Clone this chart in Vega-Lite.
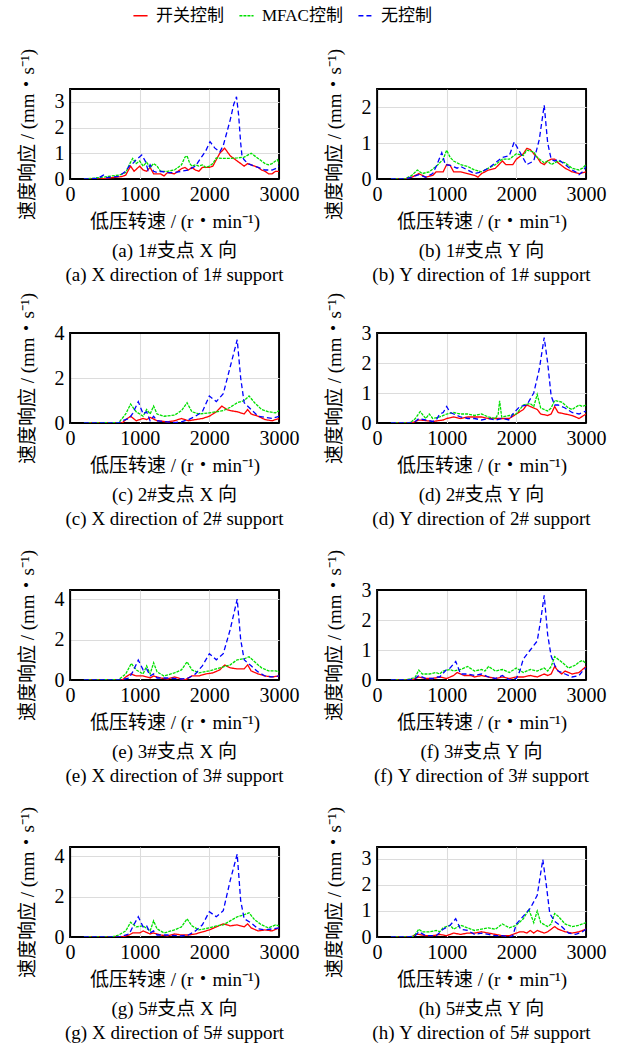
{
"$schema":"https://vega.github.io/schema/vega-lite/v6.json",
"autosize":{"type":"none"},
"padding":{"left":70,"top":89,"right":548,"bottom":955},
"config":{
 "view":{"stroke":"#000","strokeWidth":1.8},
 "axis":{"labelFont":"Liberation Serif","labelFontSize":20,"labelColor":"#000","titleFont":"'Liberation Serif','Noto Sans CJK SC'","titleFontSize":19,"titleFontWeight":"normal","titleColor":"#000","grid":true,"gridColor":"#dcdcdc","gridWidth":1.1,"domain":true,"domainColor":"#000","domainWidth":1.2,"ticks":false,"tickSize":0,"labelFlush":false,"format":"d"},
 "axisX":{"labelPadding":5,"titlePadding":8},
 "axisY":{"labelPadding":6,"titlePadding":17},
 "title":{"font":"'Liberation Serif','Noto Sans CJK SC'","fontSize":19,"fontWeight":"normal","color":"#000","orient":"bottom","anchor":"middle","lineHeight":24,"offset":11},
 "legend":{"labelFont":"'Liberation Serif','Noto Sans CJK SC'","labelFontSize":17,"labelColor":"#000"}
},
"data":{"values":[
{"p":"a","s":"R","x":200,"y":0},{"p":"a","s":"R","x":400,"y":0},{"p":"a","s":"R","x":500,"y":0.02},{"p":"a","s":"R","x":600,"y":0.05},{"p":"a","s":"R","x":700,"y":0.08},{"p":"a","s":"R","x":750,"y":0.1},{"p":"a","s":"R","x":800,"y":0.15},{"p":"a","s":"R","x":870,"y":0.5},{"p":"a","s":"R","x":920,"y":0.3},{"p":"a","s":"R","x":1000,"y":0.5},{"p":"a","s":"R","x":1050,"y":0.35},{"p":"a","s":"R","x":1100,"y":0.3},{"p":"a","s":"R","x":1150,"y":0.45},{"p":"a","s":"R","x":1200,"y":0.2},{"p":"a","s":"R","x":1300,"y":0.2},{"p":"a","s":"R","x":1350,"y":0.12},{"p":"a","s":"R","x":1400,"y":0.25},{"p":"a","s":"R","x":1500,"y":0.2},{"p":"a","s":"R","x":1600,"y":0.4},{"p":"a","s":"R","x":1650,"y":0.45},{"p":"a","s":"R","x":1700,"y":0.35},{"p":"a","s":"R","x":1750,"y":0.45},{"p":"a","s":"R","x":1800,"y":0.35},{"p":"a","s":"R","x":1850,"y":0.3},{"p":"a","s":"R","x":1900,"y":0.45},{"p":"a","s":"R","x":2000,"y":0.45},{"p":"a","s":"R","x":2050,"y":0.5},{"p":"a","s":"R","x":2100,"y":0.75},{"p":"a","s":"R","x":2150,"y":1.0},{"p":"a","s":"R","x":2220,"y":1.2},{"p":"a","s":"R","x":2300,"y":0.9},{"p":"a","s":"R","x":2400,"y":0.7},{"p":"a","s":"R","x":2450,"y":0.6},{"p":"a","s":"R","x":2500,"y":0.5},{"p":"a","s":"R","x":2550,"y":0.6},{"p":"a","s":"R","x":2600,"y":0.55},{"p":"a","s":"R","x":2700,"y":0.45},{"p":"a","s":"R","x":2750,"y":0.35},{"p":"a","s":"R","x":2800,"y":0.3},{"p":"a","s":"R","x":2850,"y":0.2},{"p":"a","s":"R","x":2900,"y":0.2},{"p":"a","s":"R","x":2950,"y":0.3},{"p":"a","s":"R","x":3000,"y":0.3},
{"p":"a","s":"G","x":200,"y":0},{"p":"a","s":"G","x":300,"y":0.02},{"p":"a","s":"G","x":400,"y":0.05},{"p":"a","s":"G","x":500,"y":0.08},{"p":"a","s":"G","x":600,"y":0.12},{"p":"a","s":"G","x":700,"y":0.15},{"p":"a","s":"G","x":800,"y":0.25},{"p":"a","s":"G","x":850,"y":0.55},{"p":"a","s":"G","x":900,"y":0.8},{"p":"a","s":"G","x":950,"y":0.6},{"p":"a","s":"G","x":1000,"y":0.7},{"p":"a","s":"G","x":1050,"y":0.5},{"p":"a","s":"G","x":1100,"y":0.65},{"p":"a","s":"G","x":1150,"y":0.45},{"p":"a","s":"G","x":1200,"y":0.6},{"p":"a","s":"G","x":1250,"y":0.5},{"p":"a","s":"G","x":1300,"y":0.3},{"p":"a","s":"G","x":1400,"y":0.3},{"p":"a","s":"G","x":1500,"y":0.35},{"p":"a","s":"G","x":1550,"y":0.45},{"p":"a","s":"G","x":1600,"y":0.55},{"p":"a","s":"G","x":1650,"y":0.85},{"p":"a","s":"G","x":1680,"y":0.9},{"p":"a","s":"G","x":1720,"y":0.6},{"p":"a","s":"G","x":1750,"y":0.5},{"p":"a","s":"G","x":1800,"y":0.55},{"p":"a","s":"G","x":1850,"y":0.5},{"p":"a","s":"G","x":1900,"y":0.55},{"p":"a","s":"G","x":1950,"y":0.45},{"p":"a","s":"G","x":2000,"y":0.5},{"p":"a","s":"G","x":2050,"y":0.6},{"p":"a","s":"G","x":2100,"y":0.82},{"p":"a","s":"G","x":2200,"y":0.8},{"p":"a","s":"G","x":2300,"y":0.8},{"p":"a","s":"G","x":2400,"y":0.82},{"p":"a","s":"G","x":2500,"y":0.85},{"p":"a","s":"G","x":2600,"y":1.0},{"p":"a","s":"G","x":2650,"y":0.9},{"p":"a","s":"G","x":2700,"y":0.8},{"p":"a","s":"G","x":2750,"y":0.7},{"p":"a","s":"G","x":2800,"y":0.6},{"p":"a","s":"G","x":2850,"y":0.55},{"p":"a","s":"G","x":2900,"y":0.6},{"p":"a","s":"G","x":2950,"y":0.7},{"p":"a","s":"G","x":2980,"y":0.75},{"p":"a","s":"G","x":3000,"y":0.6},
{"p":"a","s":"B","x":200,"y":0},{"p":"a","s":"B","x":400,"y":0.02},{"p":"a","s":"B","x":480,"y":0.15},{"p":"a","s":"B","x":520,"y":0.05},{"p":"a","s":"B","x":600,"y":0.08},{"p":"a","s":"B","x":700,"y":0.1},{"p":"a","s":"B","x":800,"y":0.3},{"p":"a","s":"B","x":850,"y":0.5},{"p":"a","s":"B","x":900,"y":0.6},{"p":"a","s":"B","x":950,"y":0.75},{"p":"a","s":"B","x":1030,"y":0.93},{"p":"a","s":"B","x":1080,"y":0.7},{"p":"a","s":"B","x":1120,"y":0.35},{"p":"a","s":"B","x":1150,"y":0.55},{"p":"a","s":"B","x":1200,"y":0.3},{"p":"a","s":"B","x":1250,"y":0.25},{"p":"a","s":"B","x":1300,"y":0.3},{"p":"a","s":"B","x":1400,"y":0.25},{"p":"a","s":"B","x":1500,"y":0.25},{"p":"a","s":"B","x":1600,"y":0.3},{"p":"a","s":"B","x":1700,"y":0.35},{"p":"a","s":"B","x":1800,"y":0.5},{"p":"a","s":"B","x":1900,"y":0.9},{"p":"a","s":"B","x":1950,"y":1.1},{"p":"a","s":"B","x":2010,"y":1.45},{"p":"a","s":"B","x":2080,"y":1.2},{"p":"a","s":"B","x":2150,"y":1.05},{"p":"a","s":"B","x":2200,"y":1.3},{"p":"a","s":"B","x":2250,"y":1.8},{"p":"a","s":"B","x":2300,"y":2.3},{"p":"a","s":"B","x":2350,"y":2.9},{"p":"a","s":"B","x":2390,"y":3.2},{"p":"a","s":"B","x":2420,"y":2.5},{"p":"a","s":"B","x":2450,"y":1.4},{"p":"a","s":"B","x":2470,"y":0.86},{"p":"a","s":"B","x":2500,"y":0.75},{"p":"a","s":"B","x":2550,"y":0.6},{"p":"a","s":"B","x":2600,"y":0.55},{"p":"a","s":"B","x":2700,"y":0.45},{"p":"a","s":"B","x":2800,"y":0.35},{"p":"a","s":"B","x":2900,"y":0.35},{"p":"a","s":"B","x":2950,"y":0.4},{"p":"a","s":"B","x":3000,"y":0.5},

{"p":"b","s":"R","x":200,"y":0},{"p":"b","s":"R","x":400,"y":0},{"p":"b","s":"R","x":500,"y":0.05},{"p":"b","s":"R","x":550,"y":0.1},{"p":"b","s":"R","x":600,"y":0.15},{"p":"b","s":"R","x":650,"y":0.1},{"p":"b","s":"R","x":700,"y":0.05},{"p":"b","s":"R","x":800,"y":0.1},{"p":"b","s":"R","x":850,"y":0.2},{"p":"b","s":"R","x":950,"y":0.2},{"p":"b","s":"R","x":1000,"y":0.4},{"p":"b","s":"R","x":1050,"y":0.38},{"p":"b","s":"R","x":1100,"y":0.2},{"p":"b","s":"R","x":1200,"y":0.2},{"p":"b","s":"R","x":1300,"y":0.15},{"p":"b","s":"R","x":1400,"y":0.1},{"p":"b","s":"R","x":1450,"y":0.05},{"p":"b","s":"R","x":1500,"y":0.15},{"p":"b","s":"R","x":1600,"y":0.25},{"p":"b","s":"R","x":1700,"y":0.3},{"p":"b","s":"R","x":1800,"y":0.5},{"p":"b","s":"R","x":1850,"y":0.4},{"p":"b","s":"R","x":1950,"y":0.4},{"p":"b","s":"R","x":2000,"y":0.55},{"p":"b","s":"R","x":2100,"y":0.7},{"p":"b","s":"R","x":2150,"y":0.85},{"p":"b","s":"R","x":2200,"y":0.82},{"p":"b","s":"R","x":2250,"y":0.7},{"p":"b","s":"R","x":2300,"y":0.6},{"p":"b","s":"R","x":2350,"y":0.45},{"p":"b","s":"R","x":2400,"y":0.4},{"p":"b","s":"R","x":2450,"y":0.5},{"p":"b","s":"R","x":2500,"y":0.55},{"p":"b","s":"R","x":2550,"y":0.55},{"p":"b","s":"R","x":2600,"y":0.45},{"p":"b","s":"R","x":2700,"y":0.3},{"p":"b","s":"R","x":2800,"y":0.2},{"p":"b","s":"R","x":2900,"y":0.15},{"p":"b","s":"R","x":3000,"y":0.2},
{"p":"b","s":"G","x":200,"y":0},{"p":"b","s":"G","x":400,"y":0},{"p":"b","s":"G","x":450,"y":0.05},{"p":"b","s":"G","x":500,"y":0.1},{"p":"b","s":"G","x":580,"y":0.25},{"p":"b","s":"G","x":650,"y":0.15},{"p":"b","s":"G","x":750,"y":0.2},{"p":"b","s":"G","x":850,"y":0.35},{"p":"b","s":"G","x":950,"y":0.55},{"p":"b","s":"G","x":1000,"y":0.8},{"p":"b","s":"G","x":1050,"y":0.6},{"p":"b","s":"G","x":1100,"y":0.5},{"p":"b","s":"G","x":1200,"y":0.4},{"p":"b","s":"G","x":1300,"y":0.35},{"p":"b","s":"G","x":1400,"y":0.25},{"p":"b","s":"G","x":1500,"y":0.2},{"p":"b","s":"G","x":1600,"y":0.3},{"p":"b","s":"G","x":1700,"y":0.4},{"p":"b","s":"G","x":1800,"y":0.55},{"p":"b","s":"G","x":1900,"y":0.55},{"p":"b","s":"G","x":2000,"y":0.7},{"p":"b","s":"G","x":2100,"y":0.65},{"p":"b","s":"G","x":2150,"y":0.8},{"p":"b","s":"G","x":2250,"y":0.75},{"p":"b","s":"G","x":2300,"y":0.6},{"p":"b","s":"G","x":2400,"y":0.45},{"p":"b","s":"G","x":2450,"y":0.5},{"p":"b","s":"G","x":2500,"y":0.4},{"p":"b","s":"G","x":2600,"y":0.5},{"p":"b","s":"G","x":2700,"y":0.45},{"p":"b","s":"G","x":2800,"y":0.3},{"p":"b","s":"G","x":2900,"y":0.25},{"p":"b","s":"G","x":2950,"y":0.3},{"p":"b","s":"G","x":3000,"y":0.4},
{"p":"b","s":"B","x":200,"y":0},{"p":"b","s":"B","x":400,"y":0},{"p":"b","s":"B","x":500,"y":0.05},{"p":"b","s":"B","x":600,"y":0.12},{"p":"b","s":"B","x":700,"y":0.05},{"p":"b","s":"B","x":800,"y":0.15},{"p":"b","s":"B","x":850,"y":0.35},{"p":"b","s":"B","x":930,"y":0.73},{"p":"b","s":"B","x":980,"y":0.4},{"p":"b","s":"B","x":1050,"y":0.38},{"p":"b","s":"B","x":1150,"y":0.3},{"p":"b","s":"B","x":1200,"y":0.35},{"p":"b","s":"B","x":1300,"y":0.25},{"p":"b","s":"B","x":1400,"y":0.15},{"p":"b","s":"B","x":1500,"y":0.2},{"p":"b","s":"B","x":1600,"y":0.3},{"p":"b","s":"B","x":1700,"y":0.45},{"p":"b","s":"B","x":1800,"y":0.6},{"p":"b","s":"B","x":1900,"y":0.65},{"p":"b","s":"B","x":1970,"y":1.03},{"p":"b","s":"B","x":2050,"y":0.75},{"p":"b","s":"B","x":2150,"y":0.4},{"p":"b","s":"B","x":2250,"y":0.5},{"p":"b","s":"B","x":2330,"y":1.1},{"p":"b","s":"B","x":2400,"y":2.05},{"p":"b","s":"B","x":2450,"y":1.0},{"p":"b","s":"B","x":2500,"y":0.55},{"p":"b","s":"B","x":2550,"y":0.5},{"p":"b","s":"B","x":2600,"y":0.55},{"p":"b","s":"B","x":2700,"y":0.4},{"p":"b","s":"B","x":2800,"y":0.25},{"p":"b","s":"B","x":2850,"y":0.2},{"p":"b","s":"B","x":2900,"y":0.12},{"p":"b","s":"B","x":2950,"y":0.2},{"p":"b","s":"B","x":3000,"y":0.35},

{"p":"c","s":"R","x":200,"y":0},{"p":"c","s":"R","x":750,"y":0},{"p":"c","s":"R","x":800,"y":0.15},{"p":"c","s":"R","x":870,"y":0.3},{"p":"c","s":"R","x":950,"y":0.1},{"p":"c","s":"R","x":1050,"y":0.2},{"p":"c","s":"R","x":1100,"y":0.15},{"p":"c","s":"R","x":1150,"y":0.25},{"p":"c","s":"R","x":1250,"y":0.1},{"p":"c","s":"R","x":1400,"y":0.05},{"p":"c","s":"R","x":1500,"y":0.1},{"p":"c","s":"R","x":1600,"y":0.2},{"p":"c","s":"R","x":1700,"y":0.1},{"p":"c","s":"R","x":1800,"y":0.15},{"p":"c","s":"R","x":1900,"y":0.2},{"p":"c","s":"R","x":2000,"y":0.3},{"p":"c","s":"R","x":2100,"y":0.5},{"p":"c","s":"R","x":2180,"y":0.75},{"p":"c","s":"R","x":2250,"y":0.6},{"p":"c","s":"R","x":2300,"y":0.55},{"p":"c","s":"R","x":2400,"y":0.5},{"p":"c","s":"R","x":2500,"y":0.4},{"p":"c","s":"R","x":2550,"y":0.6},{"p":"c","s":"R","x":2600,"y":0.4},{"p":"c","s":"R","x":2700,"y":0.3},{"p":"c","s":"R","x":2800,"y":0.15},{"p":"c","s":"R","x":2900,"y":0.1},{"p":"c","s":"R","x":3000,"y":0.2},
{"p":"c","s":"G","x":200,"y":0},{"p":"c","s":"G","x":700,"y":0.02},{"p":"c","s":"G","x":800,"y":0.4},{"p":"c","s":"G","x":870,"y":0.84},{"p":"c","s":"G","x":950,"y":0.5},{"p":"c","s":"G","x":1050,"y":0.3},{"p":"c","s":"G","x":1100,"y":0.6},{"p":"c","s":"G","x":1150,"y":0.4},{"p":"c","s":"G","x":1200,"y":0.75},{"p":"c","s":"G","x":1250,"y":0.4},{"p":"c","s":"G","x":1350,"y":0.3},{"p":"c","s":"G","x":1500,"y":0.35},{"p":"c","s":"G","x":1600,"y":0.55},{"p":"c","s":"G","x":1680,"y":0.9},{"p":"c","s":"G","x":1750,"y":0.5},{"p":"c","s":"G","x":1850,"y":0.4},{"p":"c","s":"G","x":2000,"y":0.45},{"p":"c","s":"G","x":2100,"y":0.5},{"p":"c","s":"G","x":2200,"y":0.55},{"p":"c","s":"G","x":2300,"y":0.7},{"p":"c","s":"G","x":2400,"y":0.9},{"p":"c","s":"G","x":2500,"y":1.0},{"p":"c","s":"G","x":2570,"y":1.2},{"p":"c","s":"G","x":2650,"y":0.9},{"p":"c","s":"G","x":2750,"y":0.6},{"p":"c","s":"G","x":2850,"y":0.5},{"p":"c","s":"G","x":2950,"y":0.45},{"p":"c","s":"G","x":3000,"y":0.55},
{"p":"c","s":"B","x":200,"y":0},{"p":"c","s":"B","x":700,"y":0},{"p":"c","s":"B","x":750,"y":0.1},{"p":"c","s":"B","x":850,"y":0.2},{"p":"c","s":"B","x":900,"y":0.43},{"p":"c","s":"B","x":980,"y":0.95},{"p":"c","s":"B","x":1050,"y":0.4},{"p":"c","s":"B","x":1100,"y":0.5},{"p":"c","s":"B","x":1150,"y":0.1},{"p":"c","s":"B","x":1200,"y":0.3},{"p":"c","s":"B","x":1250,"y":0.1},{"p":"c","s":"B","x":1400,"y":0.05},{"p":"c","s":"B","x":1500,"y":0.02},{"p":"c","s":"B","x":1600,"y":0.05},{"p":"c","s":"B","x":1700,"y":0.15},{"p":"c","s":"B","x":1800,"y":0.3},{"p":"c","s":"B","x":1900,"y":0.5},{"p":"c","s":"B","x":2000,"y":1.2},{"p":"c","s":"B","x":2100,"y":0.95},{"p":"c","s":"B","x":2200,"y":1.3},{"p":"c","s":"B","x":2300,"y":2.5},{"p":"c","s":"B","x":2400,"y":3.7},{"p":"c","s":"B","x":2450,"y":2.0},{"p":"c","s":"B","x":2500,"y":0.9},{"p":"c","s":"B","x":2600,"y":0.6},{"p":"c","s":"B","x":2700,"y":0.3},{"p":"c","s":"B","x":2800,"y":0.25},{"p":"c","s":"B","x":2900,"y":0.2},{"p":"c","s":"B","x":3000,"y":0.3},

{"p":"d","s":"R","x":200,"y":0},{"p":"d","s":"R","x":500,"y":0},{"p":"d","s":"R","x":550,"y":0.05},{"p":"d","s":"R","x":600,"y":0.1},{"p":"d","s":"R","x":700,"y":0.08},{"p":"d","s":"R","x":800,"y":0.05},{"p":"d","s":"R","x":950,"y":0.1},{"p":"d","s":"R","x":1000,"y":0.15},{"p":"d","s":"R","x":1100,"y":0.2},{"p":"d","s":"R","x":1200,"y":0.15},{"p":"d","s":"R","x":1300,"y":0.2},{"p":"d","s":"R","x":1400,"y":0.2},{"p":"d","s":"R","x":1500,"y":0.2},{"p":"d","s":"R","x":1600,"y":0.15},{"p":"d","s":"R","x":1700,"y":0.15},{"p":"d","s":"R","x":1800,"y":0.15},{"p":"d","s":"R","x":1900,"y":0.15},{"p":"d","s":"R","x":2000,"y":0.3},{"p":"d","s":"R","x":2100,"y":0.45},{"p":"d","s":"R","x":2150,"y":0.6},{"p":"d","s":"R","x":2200,"y":0.55},{"p":"d","s":"R","x":2300,"y":0.45},{"p":"d","s":"R","x":2350,"y":0.3},{"p":"d","s":"R","x":2450,"y":0.25},{"p":"d","s":"R","x":2500,"y":0.3},{"p":"d","s":"R","x":2550,"y":0.55},{"p":"d","s":"R","x":2600,"y":0.35},{"p":"d","s":"R","x":2700,"y":0.3},{"p":"d","s":"R","x":2800,"y":0.25},{"p":"d","s":"R","x":2900,"y":0.15},{"p":"d","s":"R","x":3000,"y":0.3},
{"p":"d","s":"G","x":200,"y":0},{"p":"d","s":"G","x":450,"y":0},{"p":"d","s":"G","x":500,"y":0.05},{"p":"d","s":"G","x":550,"y":0.15},{"p":"d","s":"G","x":620,"y":0.38},{"p":"d","s":"G","x":700,"y":0.15},{"p":"d","s":"G","x":750,"y":0.3},{"p":"d","s":"G","x":800,"y":0.15},{"p":"d","s":"G","x":900,"y":0.2},{"p":"d","s":"G","x":1000,"y":0.3},{"p":"d","s":"G","x":1100,"y":0.35},{"p":"d","s":"G","x":1200,"y":0.3},{"p":"d","s":"G","x":1300,"y":0.3},{"p":"d","s":"G","x":1400,"y":0.25},{"p":"d","s":"G","x":1500,"y":0.3},{"p":"d","s":"G","x":1600,"y":0.2},{"p":"d","s":"G","x":1700,"y":0.15},{"p":"d","s":"G","x":1740,"y":0.3},{"p":"d","s":"G","x":1760,"y":0.74},{"p":"d","s":"G","x":1790,"y":0.2},{"p":"d","s":"G","x":1900,"y":0.25},{"p":"d","s":"G","x":2000,"y":0.3},{"p":"d","s":"G","x":2100,"y":0.6},{"p":"d","s":"G","x":2200,"y":0.65},{"p":"d","s":"G","x":2250,"y":0.55},{"p":"d","s":"G","x":2300,"y":0.95},{"p":"d","s":"G","x":2350,"y":0.5},{"p":"d","s":"G","x":2450,"y":0.4},{"p":"d","s":"G","x":2500,"y":0.5},{"p":"d","s":"G","x":2550,"y":0.75},{"p":"d","s":"G","x":2650,"y":0.7},{"p":"d","s":"G","x":2750,"y":0.5},{"p":"d","s":"G","x":2800,"y":0.45},{"p":"d","s":"G","x":2900,"y":0.6},{"p":"d","s":"G","x":2950,"y":0.55},{"p":"d","s":"G","x":3000,"y":0.6},
{"p":"d","s":"B","x":200,"y":0},{"p":"d","s":"B","x":500,"y":0},{"p":"d","s":"B","x":550,"y":0.05},{"p":"d","s":"B","x":600,"y":0.15},{"p":"d","s":"B","x":700,"y":0.1},{"p":"d","s":"B","x":800,"y":0.05},{"p":"d","s":"B","x":850,"y":0.1},{"p":"d","s":"B","x":900,"y":0.3},{"p":"d","s":"B","x":950,"y":0.35},{"p":"d","s":"B","x":1000,"y":0.55},{"p":"d","s":"B","x":1050,"y":0.35},{"p":"d","s":"B","x":1100,"y":0.3},{"p":"d","s":"B","x":1200,"y":0.2},{"p":"d","s":"B","x":1300,"y":0.15},{"p":"d","s":"B","x":1400,"y":0.15},{"p":"d","s":"B","x":1500,"y":0.1},{"p":"d","s":"B","x":1600,"y":0.15},{"p":"d","s":"B","x":1700,"y":0.1},{"p":"d","s":"B","x":1800,"y":0.15},{"p":"d","s":"B","x":1900,"y":0.1},{"p":"d","s":"B","x":1950,"y":0.3},{"p":"d","s":"B","x":2050,"y":0.55},{"p":"d","s":"B","x":2150,"y":0.6},{"p":"d","s":"B","x":2250,"y":1.0},{"p":"d","s":"B","x":2330,"y":1.8},{"p":"d","s":"B","x":2400,"y":2.85},{"p":"d","s":"B","x":2450,"y":2.0},{"p":"d","s":"B","x":2500,"y":0.9},{"p":"d","s":"B","x":2550,"y":0.6},{"p":"d","s":"B","x":2600,"y":0.6},{"p":"d","s":"B","x":2700,"y":0.5},{"p":"d","s":"B","x":2800,"y":0.35},{"p":"d","s":"B","x":2900,"y":0.3},{"p":"d","s":"B","x":3000,"y":0.4},

{"p":"e","s":"R","x":200,"y":0},{"p":"e","s":"R","x":750,"y":0},{"p":"e","s":"R","x":800,"y":0.15},{"p":"e","s":"R","x":870,"y":0.3},{"p":"e","s":"R","x":950,"y":0.2},{"p":"e","s":"R","x":1050,"y":0.2},{"p":"e","s":"R","x":1150,"y":0.1},{"p":"e","s":"R","x":1200,"y":0.2},{"p":"e","s":"R","x":1300,"y":0.1},{"p":"e","s":"R","x":1400,"y":0.05},{"p":"e","s":"R","x":1500,"y":0.15},{"p":"e","s":"R","x":1600,"y":0.05},{"p":"e","s":"R","x":1650,"y":0},{"p":"e","s":"R","x":1750,"y":0.2},{"p":"e","s":"R","x":1850,"y":0.2},{"p":"e","s":"R","x":1950,"y":0.3},{"p":"e","s":"R","x":2050,"y":0.35},{"p":"e","s":"R","x":2150,"y":0.5},{"p":"e","s":"R","x":2220,"y":0.74},{"p":"e","s":"R","x":2300,"y":0.6},{"p":"e","s":"R","x":2400,"y":0.55},{"p":"e","s":"R","x":2500,"y":0.55},{"p":"e","s":"R","x":2550,"y":0.75},{"p":"e","s":"R","x":2600,"y":0.45},{"p":"e","s":"R","x":2700,"y":0.3},{"p":"e","s":"R","x":2800,"y":0.2},{"p":"e","s":"R","x":2900,"y":0.15},{"p":"e","s":"R","x":3000,"y":0.2},
{"p":"e","s":"G","x":200,"y":0},{"p":"e","s":"G","x":700,"y":0.02},{"p":"e","s":"G","x":800,"y":0.3},{"p":"e","s":"G","x":880,"y":0.82},{"p":"e","s":"G","x":950,"y":0.5},{"p":"e","s":"G","x":1050,"y":0.3},{"p":"e","s":"G","x":1100,"y":0.7},{"p":"e","s":"G","x":1150,"y":0.3},{"p":"e","s":"G","x":1200,"y":0.85},{"p":"e","s":"G","x":1250,"y":0.4},{"p":"e","s":"G","x":1350,"y":0.2},{"p":"e","s":"G","x":1500,"y":0.35},{"p":"e","s":"G","x":1600,"y":0.5},{"p":"e","s":"G","x":1680,"y":0.9},{"p":"e","s":"G","x":1750,"y":0.5},{"p":"e","s":"G","x":1850,"y":0.35},{"p":"e","s":"G","x":2000,"y":0.45},{"p":"e","s":"G","x":2100,"y":0.55},{"p":"e","s":"G","x":2200,"y":0.65},{"p":"e","s":"G","x":2300,"y":0.75},{"p":"e","s":"G","x":2400,"y":1.0},{"p":"e","s":"G","x":2500,"y":1.05},{"p":"e","s":"G","x":2570,"y":1.15},{"p":"e","s":"G","x":2650,"y":0.9},{"p":"e","s":"G","x":2750,"y":0.6},{"p":"e","s":"G","x":2850,"y":0.45},{"p":"e","s":"G","x":2950,"y":0.45},{"p":"e","s":"G","x":3000,"y":0.4},
{"p":"e","s":"B","x":200,"y":0},{"p":"e","s":"B","x":700,"y":0},{"p":"e","s":"B","x":850,"y":0.1},{"p":"e","s":"B","x":900,"y":0.4},{"p":"e","s":"B","x":980,"y":0.99},{"p":"e","s":"B","x":1050,"y":0.5},{"p":"e","s":"B","x":1100,"y":0.55},{"p":"e","s":"B","x":1150,"y":0.2},{"p":"e","s":"B","x":1200,"y":0.3},{"p":"e","s":"B","x":1250,"y":0.1},{"p":"e","s":"B","x":1400,"y":0.1},{"p":"e","s":"B","x":1600,"y":0.05},{"p":"e","s":"B","x":1700,"y":0.1},{"p":"e","s":"B","x":1800,"y":0.3},{"p":"e","s":"B","x":1900,"y":0.7},{"p":"e","s":"B","x":2000,"y":1.3},{"p":"e","s":"B","x":2100,"y":1.0},{"p":"e","s":"B","x":2200,"y":1.3},{"p":"e","s":"B","x":2300,"y":2.5},{"p":"e","s":"B","x":2400,"y":4.0},{"p":"e","s":"B","x":2450,"y":2.0},{"p":"e","s":"B","x":2500,"y":1.0},{"p":"e","s":"B","x":2600,"y":0.7},{"p":"e","s":"B","x":2700,"y":0.4},{"p":"e","s":"B","x":2800,"y":0.2},{"p":"e","s":"B","x":2900,"y":0.15},{"p":"e","s":"B","x":3000,"y":0.2},

{"p":"f","s":"R","x":200,"y":0},{"p":"f","s":"R","x":500,"y":0},{"p":"f","s":"R","x":550,"y":0.05},{"p":"f","s":"R","x":600,"y":0.1},{"p":"f","s":"R","x":700,"y":0.05},{"p":"f","s":"R","x":800,"y":0.05},{"p":"f","s":"R","x":900,"y":0.1},{"p":"f","s":"R","x":1000,"y":0.05},{"p":"f","s":"R","x":1100,"y":0.15},{"p":"f","s":"R","x":1150,"y":0.25},{"p":"f","s":"R","x":1250,"y":0.15},{"p":"f","s":"R","x":1350,"y":0.15},{"p":"f","s":"R","x":1400,"y":0.1},{"p":"f","s":"R","x":1500,"y":0.15},{"p":"f","s":"R","x":1600,"y":0.1},{"p":"f","s":"R","x":1700,"y":0.05},{"p":"f","s":"R","x":1800,"y":0.1},{"p":"f","s":"R","x":1900,"y":0.05},{"p":"f","s":"R","x":2000,"y":0.1},{"p":"f","s":"R","x":2100,"y":0.1},{"p":"f","s":"R","x":2200,"y":0.15},{"p":"f","s":"R","x":2300,"y":0.1},{"p":"f","s":"R","x":2400,"y":0.2},{"p":"f","s":"R","x":2450,"y":0.15},{"p":"f","s":"R","x":2500,"y":0.2},{"p":"f","s":"R","x":2550,"y":0.45},{"p":"f","s":"R","x":2600,"y":0.3},{"p":"f","s":"R","x":2650,"y":0.2},{"p":"f","s":"R","x":2700,"y":0.3},{"p":"f","s":"R","x":2800,"y":0.2},{"p":"f","s":"R","x":2900,"y":0.25},{"p":"f","s":"R","x":3000,"y":0.45},
{"p":"f","s":"G","x":200,"y":0},{"p":"f","s":"G","x":400,"y":0},{"p":"f","s":"G","x":500,"y":0.05},{"p":"f","s":"G","x":550,"y":0.1},{"p":"f","s":"G","x":600,"y":0.33},{"p":"f","s":"G","x":650,"y":0.2},{"p":"f","s":"G","x":750,"y":0.2},{"p":"f","s":"G","x":850,"y":0.25},{"p":"f","s":"G","x":900,"y":0.2},{"p":"f","s":"G","x":950,"y":0.3},{"p":"f","s":"G","x":1050,"y":0.35},{"p":"f","s":"G","x":1100,"y":0.3},{"p":"f","s":"G","x":1200,"y":0.35},{"p":"f","s":"G","x":1300,"y":0.45},{"p":"f","s":"G","x":1400,"y":0.3},{"p":"f","s":"G","x":1500,"y":0.35},{"p":"f","s":"G","x":1550,"y":0.3},{"p":"f","s":"G","x":1600,"y":0.45},{"p":"f","s":"G","x":1700,"y":0.3},{"p":"f","s":"G","x":1800,"y":0.35},{"p":"f","s":"G","x":1900,"y":0.25},{"p":"f","s":"G","x":2000,"y":0.4},{"p":"f","s":"G","x":2100,"y":0.25},{"p":"f","s":"G","x":2200,"y":0.35},{"p":"f","s":"G","x":2300,"y":0.3},{"p":"f","s":"G","x":2400,"y":0.4},{"p":"f","s":"G","x":2450,"y":0.3},{"p":"f","s":"G","x":2500,"y":0.45},{"p":"f","s":"G","x":2550,"y":0.78},{"p":"f","s":"G","x":2650,"y":0.6},{"p":"f","s":"G","x":2750,"y":0.4},{"p":"f","s":"G","x":2850,"y":0.5},{"p":"f","s":"G","x":2900,"y":0.6},{"p":"f","s":"G","x":2950,"y":0.65},{"p":"f","s":"G","x":3000,"y":0.55},
{"p":"f","s":"B","x":200,"y":0},{"p":"f","s":"B","x":450,"y":0},{"p":"f","s":"B","x":550,"y":0.05},{"p":"f","s":"B","x":600,"y":0.15},{"p":"f","s":"B","x":700,"y":0.05},{"p":"f","s":"B","x":800,"y":0.05},{"p":"f","s":"B","x":850,"y":0.1},{"p":"f","s":"B","x":900,"y":0.1},{"p":"f","s":"B","x":1000,"y":0.35},{"p":"f","s":"B","x":1050,"y":0.4},{"p":"f","s":"B","x":1130,"y":0.62},{"p":"f","s":"B","x":1200,"y":0.2},{"p":"f","s":"B","x":1300,"y":0.2},{"p":"f","s":"B","x":1400,"y":0.15},{"p":"f","s":"B","x":1500,"y":0.2},{"p":"f","s":"B","x":1600,"y":0.1},{"p":"f","s":"B","x":1700,"y":0.05},{"p":"f","s":"B","x":1800,"y":0.15},{"p":"f","s":"B","x":1900,"y":0},{"p":"f","s":"B","x":2000,"y":0.05},{"p":"f","s":"B","x":2050,"y":0.3},{"p":"f","s":"B","x":2100,"y":0.7},{"p":"f","s":"B","x":2200,"y":1.0},{"p":"f","s":"B","x":2300,"y":1.3},{"p":"f","s":"B","x":2350,"y":2.0},{"p":"f","s":"B","x":2400,"y":2.82},{"p":"f","s":"B","x":2450,"y":1.5},{"p":"f","s":"B","x":2500,"y":0.8},{"p":"f","s":"B","x":2550,"y":0.5},{"p":"f","s":"B","x":2600,"y":0.3},{"p":"f","s":"B","x":2700,"y":0.2},{"p":"f","s":"B","x":2800,"y":0.1},{"p":"f","s":"B","x":2900,"y":0.15},{"p":"f","s":"B","x":2950,"y":0.3},{"p":"f","s":"B","x":3000,"y":0.4},

{"p":"g","s":"R","x":200,"y":0},{"p":"g","s":"R","x":750,"y":0},{"p":"g","s":"R","x":850,"y":0.1},{"p":"g","s":"R","x":900,"y":0.2},{"p":"g","s":"R","x":1000,"y":0.2},{"p":"g","s":"R","x":1050,"y":0.3},{"p":"g","s":"R","x":1150,"y":0.15},{"p":"g","s":"R","x":1200,"y":0.2},{"p":"g","s":"R","x":1300,"y":0.1},{"p":"g","s":"R","x":1400,"y":0.05},{"p":"g","s":"R","x":1500,"y":0.15},{"p":"g","s":"R","x":1600,"y":0.1},{"p":"g","s":"R","x":1700,"y":0.1},{"p":"g","s":"R","x":1800,"y":0.15},{"p":"g","s":"R","x":1900,"y":0.25},{"p":"g","s":"R","x":2000,"y":0.35},{"p":"g","s":"R","x":2100,"y":0.5},{"p":"g","s":"R","x":2200,"y":0.65},{"p":"g","s":"R","x":2300,"y":0.55},{"p":"g","s":"R","x":2400,"y":0.6},{"p":"g","s":"R","x":2500,"y":0.5},{"p":"g","s":"R","x":2550,"y":0.65},{"p":"g","s":"R","x":2600,"y":0.45},{"p":"g","s":"R","x":2700,"y":0.3},{"p":"g","s":"R","x":2800,"y":0.35},{"p":"g","s":"R","x":2900,"y":0.3},{"p":"g","s":"R","x":3000,"y":0.45},
{"p":"g","s":"G","x":200,"y":0},{"p":"g","s":"G","x":600,"y":0},{"p":"g","s":"G","x":700,"y":0.1},{"p":"g","s":"G","x":800,"y":0.3},{"p":"g","s":"G","x":870,"y":0.73},{"p":"g","s":"G","x":950,"y":0.5},{"p":"g","s":"G","x":1050,"y":0.55},{"p":"g","s":"G","x":1150,"y":0.3},{"p":"g","s":"G","x":1200,"y":0.8},{"p":"g","s":"G","x":1250,"y":0.4},{"p":"g","s":"G","x":1350,"y":0.2},{"p":"g","s":"G","x":1500,"y":0.35},{"p":"g","s":"G","x":1600,"y":0.5},{"p":"g","s":"G","x":1680,"y":0.9},{"p":"g","s":"G","x":1750,"y":0.55},{"p":"g","s":"G","x":1850,"y":0.35},{"p":"g","s":"G","x":2000,"y":0.45},{"p":"g","s":"G","x":2100,"y":0.55},{"p":"g","s":"G","x":2200,"y":0.6},{"p":"g","s":"G","x":2300,"y":0.8},{"p":"g","s":"G","x":2400,"y":1.0},{"p":"g","s":"G","x":2500,"y":1.1},{"p":"g","s":"G","x":2570,"y":1.2},{"p":"g","s":"G","x":2650,"y":0.85},{"p":"g","s":"G","x":2750,"y":0.6},{"p":"g","s":"G","x":2850,"y":0.45},{"p":"g","s":"G","x":2950,"y":0.6},{"p":"g","s":"G","x":3000,"y":0.55},
{"p":"g","s":"B","x":200,"y":0},{"p":"g","s":"B","x":700,"y":0},{"p":"g","s":"B","x":850,"y":0.15},{"p":"g","s":"B","x":900,"y":0.5},{"p":"g","s":"B","x":980,"y":1.0},{"p":"g","s":"B","x":1050,"y":0.5},{"p":"g","s":"B","x":1100,"y":0.55},{"p":"g","s":"B","x":1150,"y":0.2},{"p":"g","s":"B","x":1200,"y":0.3},{"p":"g","s":"B","x":1250,"y":0.1},{"p":"g","s":"B","x":1400,"y":0.1},{"p":"g","s":"B","x":1600,"y":0.05},{"p":"g","s":"B","x":1700,"y":0.1},{"p":"g","s":"B","x":1800,"y":0.3},{"p":"g","s":"B","x":1900,"y":0.6},{"p":"g","s":"B","x":2000,"y":1.25},{"p":"g","s":"B","x":2100,"y":1.0},{"p":"g","s":"B","x":2200,"y":1.3},{"p":"g","s":"B","x":2300,"y":2.8},{"p":"g","s":"B","x":2400,"y":4.1},{"p":"g","s":"B","x":2450,"y":1.8},{"p":"g","s":"B","x":2500,"y":0.9},{"p":"g","s":"B","x":2600,"y":0.7},{"p":"g","s":"B","x":2700,"y":0.4},{"p":"g","s":"B","x":2800,"y":0.35},{"p":"g","s":"B","x":2900,"y":0.4},{"p":"g","s":"B","x":3000,"y":0.45},

{"p":"h","s":"R","x":200,"y":0},{"p":"h","s":"R","x":500,"y":0},{"p":"h","s":"R","x":550,"y":0.1},{"p":"h","s":"R","x":600,"y":0.1},{"p":"h","s":"R","x":700,"y":0.05},{"p":"h","s":"R","x":800,"y":0.05},{"p":"h","s":"R","x":900,"y":0.1},{"p":"h","s":"R","x":1000,"y":0.05},{"p":"h","s":"R","x":1100,"y":0.15},{"p":"h","s":"R","x":1200,"y":0.1},{"p":"h","s":"R","x":1300,"y":0.15},{"p":"h","s":"R","x":1400,"y":0.15},{"p":"h","s":"R","x":1500,"y":0.2},{"p":"h","s":"R","x":1600,"y":0.15},{"p":"h","s":"R","x":1700,"y":0.1},{"p":"h","s":"R","x":1800,"y":0.05},{"p":"h","s":"R","x":1900,"y":0.05},{"p":"h","s":"R","x":2000,"y":0.15},{"p":"h","s":"R","x":2050,"y":0.2},{"p":"h","s":"R","x":2100,"y":0.2},{"p":"h","s":"R","x":2150,"y":0.15},{"p":"h","s":"R","x":2200,"y":0.25},{"p":"h","s":"R","x":2250,"y":0.15},{"p":"h","s":"R","x":2300,"y":0.25},{"p":"h","s":"R","x":2400,"y":0.15},{"p":"h","s":"R","x":2450,"y":0.2},{"p":"h","s":"R","x":2500,"y":0.3},{"p":"h","s":"R","x":2550,"y":0.4},{"p":"h","s":"R","x":2600,"y":0.3},{"p":"h","s":"R","x":2700,"y":0.2},{"p":"h","s":"R","x":2800,"y":0.15},{"p":"h","s":"R","x":2900,"y":0.2},{"p":"h","s":"R","x":3000,"y":0.3},
{"p":"h","s":"G","x":200,"y":0},{"p":"h","s":"G","x":500,"y":0},{"p":"h","s":"G","x":550,"y":0.1},{"p":"h","s":"G","x":600,"y":0.3},{"p":"h","s":"G","x":650,"y":0.2},{"p":"h","s":"G","x":750,"y":0.2},{"p":"h","s":"G","x":850,"y":0.25},{"p":"h","s":"G","x":900,"y":0.2},{"p":"h","s":"G","x":950,"y":0.35},{"p":"h","s":"G","x":1050,"y":0.45},{"p":"h","s":"G","x":1100,"y":0.3},{"p":"h","s":"G","x":1200,"y":0.45},{"p":"h","s":"G","x":1300,"y":0.35},{"p":"h","s":"G","x":1400,"y":0.25},{"p":"h","s":"G","x":1500,"y":0.3},{"p":"h","s":"G","x":1600,"y":0.35},{"p":"h","s":"G","x":1700,"y":0.3},{"p":"h","s":"G","x":1800,"y":0.5},{"p":"h","s":"G","x":1900,"y":0.35},{"p":"h","s":"G","x":2000,"y":0.45},{"p":"h","s":"G","x":2100,"y":0.7},{"p":"h","s":"G","x":2180,"y":1.05},{"p":"h","s":"G","x":2250,"y":0.55},{"p":"h","s":"G","x":2300,"y":1.0},{"p":"h","s":"G","x":2350,"y":0.55},{"p":"h","s":"G","x":2450,"y":0.4},{"p":"h","s":"G","x":2500,"y":0.5},{"p":"h","s":"G","x":2550,"y":0.9},{"p":"h","s":"G","x":2600,"y":0.8},{"p":"h","s":"G","x":2700,"y":0.5},{"p":"h","s":"G","x":2800,"y":0.4},{"p":"h","s":"G","x":2900,"y":0.45},{"p":"h","s":"G","x":2950,"y":0.5},{"p":"h","s":"G","x":3000,"y":0.55},
{"p":"h","s":"B","x":200,"y":0},{"p":"h","s":"B","x":450,"y":0},{"p":"h","s":"B","x":550,"y":0.05},{"p":"h","s":"B","x":600,"y":0.2},{"p":"h","s":"B","x":700,"y":0.05},{"p":"h","s":"B","x":850,"y":0.05},{"p":"h","s":"B","x":950,"y":0.3},{"p":"h","s":"B","x":1050,"y":0.45},{"p":"h","s":"B","x":1130,"y":0.7},{"p":"h","s":"B","x":1200,"y":0.3},{"p":"h","s":"B","x":1300,"y":0.25},{"p":"h","s":"B","x":1400,"y":0.1},{"p":"h","s":"B","x":1500,"y":0.15},{"p":"h","s":"B","x":1600,"y":0.1},{"p":"h","s":"B","x":1700,"y":0.05},{"p":"h","s":"B","x":1800,"y":0.05},{"p":"h","s":"B","x":1900,"y":0},{"p":"h","s":"B","x":1950,"y":0.05},{"p":"h","s":"B","x":2000,"y":0.5},{"p":"h","s":"B","x":2100,"y":0.8},{"p":"h","s":"B","x":2200,"y":1.1},{"p":"h","s":"B","x":2300,"y":1.6},{"p":"h","s":"B","x":2380,"y":2.97},{"p":"h","s":"B","x":2430,"y":2.0},{"p":"h","s":"B","x":2480,"y":0.9},{"p":"h","s":"B","x":2550,"y":0.6},{"p":"h","s":"B","x":2650,"y":0.4},{"p":"h","s":"B","x":2750,"y":0.15},{"p":"h","s":"B","x":2850,"y":0.1},{"p":"h","s":"B","x":2950,"y":0.2},{"p":"h","s":"B","x":3000,"y":0.3}
]},
"bounds":"flush",
"spacing":244,
"resolve":{"scale":{"color":"independent","strokeDash":"independent"},"legend":{"color":"independent","strokeDash":"independent"}},
"vconcat":[
 {"hconcat":[
  {"width":209,"height":90,"transform":[{"filter":"datum.p==='a'"}],"title":{"text":["(a) 1#支点 X 向","(a) X direction of 1# support"]},"mark":{"type":"line","strokeWidth":1.3,"clip":true},
   "encoding":{"x":{"field":"x","type":"quantitative","scale":{"domain":[0,3000],"nice":false},"axis":{"values":[0,1000,2000,3000],"title":"低压转速 / (r・min⁻¹)","gridColor":{"condition":{"test":"datum.value==3000","value":"#000"},"value":"#dcdcdc"}}},
    "y":{"field":"y","type":"quantitative","scale":{"domain":[0,3.5],"nice":false},"axis":{"values":[0,1,2,3],"title":"速度响应 / (mm・s⁻¹)"}},
    "color":{"field":"s","type":"nominal","scale":{"domain":["R","G","B"],"range":["#ff0000","#00e000","#0000ff"]},"legend":{"orient":"none","legendX":62,"legendY":-82,"direction":"horizontal","title":null,"symbolType":"stroke","symbolSize":200,"symbolStrokeWidth":1.5,"labelOffset":7,"columnPadding":12,"labelExpr":"datum.label=='R'?'开关控制':datum.label=='G'?'MFAC控制':'无控制'"}},
    "strokeDash":{"field":"s","type":"nominal","scale":{"domain":["R","G","B"],"range":[[1,0],[3,1],[5,3]]},"legend":{"orient":"none","legendX":62,"legendY":-82,"direction":"horizontal","title":null,"symbolType":"stroke","symbolSize":200,"symbolStrokeWidth":1.5,"labelOffset":7,"columnPadding":12,"labelExpr":"datum.label=='R'?'开关控制':datum.label=='G'?'MFAC控制':'无控制'"}}}},
  {"width":209,"height":90,"transform":[{"filter":"datum.p==='b'"}],"title":{"text":["(b) 1#支点 Y 向","(b) Y direction of 1# support"]},"mark":{"type":"line","strokeWidth":1.3,"clip":true},
   "encoding":{"x":{"field":"x","type":"quantitative","scale":{"domain":[0,3000],"nice":false},"axis":{"values":[0,1000,2000,3000],"title":"低压转速 / (r・min⁻¹)","gridColor":{"condition":{"test":"datum.value==3000","value":"#000"},"value":"#dcdcdc"}}},
    "y":{"field":"y","type":"quantitative","scale":{"domain":[0,2.5],"nice":false},"axis":{"values":[0,1,2],"title":"速度响应 / (mm・s⁻¹)"}},
    "color":{"field":"s","type":"nominal","scale":{"domain":["R","G","B"],"range":["#ff0000","#00e000","#0000ff"]},"legend":null},
    "strokeDash":{"field":"s","type":"nominal","scale":{"domain":["R","G","B"],"range":[[1,0],[3,1],[5,3]]},"legend":null}}}
 ],"spacing":98,"bounds":"flush","resolve":{"scale":{"color":"independent","strokeDash":"independent"},"legend":{"color":"independent","strokeDash":"independent"}}},
 {"vconcat":[
  {"hconcat":[
   {"width":209,"height":90,"transform":[{"filter":"datum.p==='c'"}],"title":{"text":["(c) 2#支点 X 向","(c) X direction of 2# support"]},"mark":{"type":"line","strokeWidth":1.3,"clip":true},
    "encoding":{"x":{"field":"x","type":"quantitative","scale":{"domain":[0,3000],"nice":false},"axis":{"values":[0,1000,2000,3000],"title":"低压转速 / (r・min⁻¹)","gridColor":{"condition":{"test":"datum.value==3000","value":"#000"},"value":"#dcdcdc"}}},
     "y":{"field":"y","type":"quantitative","scale":{"domain":[0,4],"nice":false},"axis":{"values":[0,2,4],"title":"速度响应 / (mm・s⁻¹)","gridColor":{"condition":{"test":"datum.value==4","value":"#000"},"value":"#dcdcdc"}}},
     "color":{"field":"s","type":"nominal","scale":{"domain":["R","G","B"],"range":["#ff0000","#00e000","#0000ff"]},"legend":null},
     "strokeDash":{"field":"s","type":"nominal","scale":{"domain":["R","G","B"],"range":[[1,0],[3,1],[5,3]]},"legend":null}}},
   {"width":209,"height":90,"transform":[{"filter":"datum.p==='d'"}],"title":{"text":["(d) 2#支点 Y 向","(d) Y direction of 2# support"]},"mark":{"type":"line","strokeWidth":1.3,"clip":true},
    "encoding":{"x":{"field":"x","type":"quantitative","scale":{"domain":[0,3000],"nice":false},"axis":{"values":[0,1000,2000,3000],"title":"低压转速 / (r・min⁻¹)","gridColor":{"condition":{"test":"datum.value==3000","value":"#000"},"value":"#dcdcdc"}}},
     "y":{"field":"y","type":"quantitative","scale":{"domain":[0,3],"nice":false},"axis":{"values":[0,1,2,3],"title":"速度响应 / (mm・s⁻¹)","gridColor":{"condition":{"test":"datum.value==3","value":"#000"},"value":"#dcdcdc"}}},
     "color":{"field":"s","type":"nominal","scale":{"domain":["R","G","B"],"range":["#ff0000","#00e000","#0000ff"]},"legend":null},
     "strokeDash":{"field":"s","type":"nominal","scale":{"domain":["R","G","B"],"range":[[1,0],[3,1],[5,3]]},"legend":null}}}
  ],"spacing":98,"bounds":"flush","resolve":{"scale":{"color":"independent","strokeDash":"independent"},"legend":{"color":"independent","strokeDash":"independent"}}},
  {"hconcat":[
   {"width":209,"height":90,"transform":[{"filter":"datum.p==='e'"}],"title":{"text":["(e) 3#支点 X 向","(e) X direction of 3# support"]},"mark":{"type":"line","strokeWidth":1.3,"clip":true},
    "encoding":{"x":{"field":"x","type":"quantitative","scale":{"domain":[0,3000],"nice":false},"axis":{"values":[0,1000,2000,3000],"title":"低压转速 / (r・min⁻¹)","gridColor":{"condition":{"test":"datum.value==3000","value":"#000"},"value":"#dcdcdc"}}},
     "y":{"field":"y","type":"quantitative","scale":{"domain":[0,4.45],"nice":false},"axis":{"values":[0,2,4],"title":"速度响应 / (mm・s⁻¹)"}},
     "color":{"field":"s","type":"nominal","scale":{"domain":["R","G","B"],"range":["#ff0000","#00e000","#0000ff"]},"legend":null},
     "strokeDash":{"field":"s","type":"nominal","scale":{"domain":["R","G","B"],"range":[[1,0],[3,1],[5,3]]},"legend":null}}},
   {"width":209,"height":90,"transform":[{"filter":"datum.p==='f'"}],"title":{"text":["(f) 3#支点 Y 向","(f) Y direction of 3# support"]},"mark":{"type":"line","strokeWidth":1.3,"clip":true},
    "encoding":{"x":{"field":"x","type":"quantitative","scale":{"domain":[0,3000],"nice":false},"axis":{"values":[0,1000,2000,3000],"title":"低压转速 / (r・min⁻¹)","gridColor":{"condition":{"test":"datum.value==3000","value":"#000"},"value":"#dcdcdc"}}},
     "y":{"field":"y","type":"quantitative","scale":{"domain":[0,3],"nice":false},"axis":{"values":[0,1,2,3],"title":"速度响应 / (mm・s⁻¹)","gridColor":{"condition":{"test":"datum.value==3","value":"#000"},"value":"#dcdcdc"}}},
     "color":{"field":"s","type":"nominal","scale":{"domain":["R","G","B"],"range":["#ff0000","#00e000","#0000ff"]},"legend":null},
     "strokeDash":{"field":"s","type":"nominal","scale":{"domain":["R","G","B"],"range":[[1,0],[3,1],[5,3]]},"legend":null}}}
  ],"spacing":98,"bounds":"flush","resolve":{"scale":{"color":"independent","strokeDash":"independent"},"legend":{"color":"independent","strokeDash":"independent"}}},
  {"hconcat":[
   {"width":209,"height":90,"transform":[{"filter":"datum.p==='g'"}],"title":{"text":["(g) 5#支点 X 向","(g) X direction of 5# support"]},"mark":{"type":"line","strokeWidth":1.3,"clip":true},
    "encoding":{"x":{"field":"x","type":"quantitative","scale":{"domain":[0,3000],"nice":false},"axis":{"values":[0,1000,2000,3000],"title":"低压转速 / (r・min⁻¹)","gridColor":{"condition":{"test":"datum.value==3000","value":"#000"},"value":"#dcdcdc"}}},
     "y":{"field":"y","type":"quantitative","scale":{"domain":[0,4.45],"nice":false},"axis":{"values":[0,2,4],"title":"速度响应 / (mm・s⁻¹)"}},
     "color":{"field":"s","type":"nominal","scale":{"domain":["R","G","B"],"range":["#ff0000","#00e000","#0000ff"]},"legend":null},
     "strokeDash":{"field":"s","type":"nominal","scale":{"domain":["R","G","B"],"range":[[1,0],[3,1],[5,3]]},"legend":null}}},
   {"width":209,"height":90,"transform":[{"filter":"datum.p==='h'"}],"title":{"text":["(h) 5#支点 Y 向","(h) Y direction of 5# support"]},"mark":{"type":"line","strokeWidth":1.3,"clip":true},
    "encoding":{"x":{"field":"x","type":"quantitative","scale":{"domain":[0,3000],"nice":false},"axis":{"values":[0,1000,2000,3000],"title":"低压转速 / (r・min⁻¹)","gridColor":{"condition":{"test":"datum.value==3000","value":"#000"},"value":"#dcdcdc"}}},
     "y":{"field":"y","type":"quantitative","scale":{"domain":[0,3.45],"nice":false},"axis":{"values":[0,1,2,3],"title":"速度响应 / (mm・s⁻¹)"}},
     "color":{"field":"s","type":"nominal","scale":{"domain":["R","G","B"],"range":["#ff0000","#00e000","#0000ff"]},"legend":null},
     "strokeDash":{"field":"s","type":"nominal","scale":{"domain":["R","G","B"],"range":[[1,0],[3,1],[5,3]]},"legend":null}}}
  ],"spacing":98,"bounds":"flush","resolve":{"scale":{"color":"independent","strokeDash":"independent"},"legend":{"color":"independent","strokeDash":"independent"}}}
 ],"spacing":257,"bounds":"flush","resolve":{"scale":{"color":"independent","strokeDash":"independent"},"legend":{"color":"independent","strokeDash":"independent"}}}
]
}
